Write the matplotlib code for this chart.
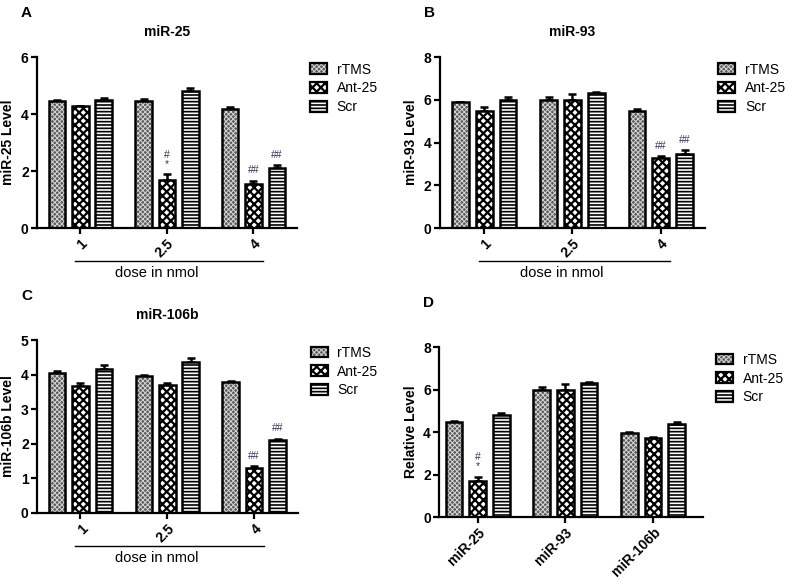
import numpy as np
import matplotlib
matplotlib.use("Agg")
import matplotlib.pyplot as plt

plt.rcParams['font.family'] = ['Liberation Sans', 'DejaVu Sans']

groups = ['rTMS', 'Ant-25', 'Scr']
doses = ['1', '2.5', '4']
mirs = ['miR-25', 'miR-93', 'miR-106b']

# mean values per group, one row per dose
mir25 = [[4.45, 4.27, 4.50], [4.47, 1.70, 4.80], [4.17, 1.55, 2.10]]
mir25_err = [[0.05, 0.03, 0.07], [0.05, 0.20, 0.10], [0.07, 0.12, 0.12]]
mir93 = [[5.88, 5.48, 5.97], [6.00, 6.00, 6.30], [5.48, 3.27, 3.45]]
mir93_err = [[0.04, 0.20, 0.15], [0.12, 0.25, 0.08], [0.10, 0.12, 0.20]]
mir106b = [[4.05, 3.67, 4.17], [3.95, 3.70, 4.38], [3.78, 1.30, 2.10]]
mir106b_err = [[0.05, 0.10, 0.10], [0.03, 0.05, 0.10], [0.03, 0.05, 0.05]]
# panel D: the 2.5 nmol values of each miRNA
rel = [mir25[1], mir93[1], mir106b[1]]
rel_err = [mir25_err[1], mir93_err[1], mir106b_err[1]]

# significance marks: (group row, series index, label)
marks_a = [(1, 1, '#\n*'), (2, 1, '##'), (2, 2, '##')]
marks_b = [(2, 1, '##'), (2, 2, '##')]
marks_c = [(2, 1, '##'), (2, 2, '##')]
marks_d = [(0, 1, '#\n*')]

styles = [
    dict(facecolor='#5a5a5a', edgecolor='#d4d4d4', hatch='xxxxxxx', lw=0.7),
    dict(facecolor='white', edgecolor='black', hatch='xxxx', lw=1.6),
    dict(facecolor='white', edgecolor='black', hatch='-----', lw=1.2),
]

fig = plt.figure(figsize=(7.97, 5.88), dpi=100)
legends = []


def panel(rect, vals, errs, marks, title, ylabel, yticks, ticklabels, letter, dose_line=True, xlim=(-0.5, 2.5)):
    ax = fig.add_axes(rect)
    vals = np.array(vals)
    errs = np.array(errs)
    x = np.arange(len(vals))
    w = 0.19
    step = 0.27
    handles = []
    for i in range(3):
        xi = x + (i - 1) * step
        st = styles[i]
        with plt.rc_context({'hatch.linewidth': st['lw']}):
            ax.bar(xi, vals[:, i], w, facecolor=st['facecolor'], edgecolor=st['edgecolor'],
                   hatch=st['hatch'], linewidth=0, zorder=2)
            h = plt.Rectangle((0, 0), 1, 1, facecolor=st['facecolor'], edgecolor=st['edgecolor'],
                              hatch=st['hatch'], linewidth=0)
        ax.bar(xi, vals[:, i], w, fill=False, edgecolor='black', linewidth=1.8, zorder=3)
        ax.errorbar(xi, vals[:, i], yerr=[np.zeros(len(xi)), errs[:, i]], fmt='none',
                    ecolor='black', elinewidth=1.8, capsize=3, capthick=1.8, zorder=1)
        handles.append(h)
    for g, s, txt in marks:
        xi = x[g] + (s - 1) * step
        ax.text(xi, vals[g, s] + errs[g, s] + yticks[-1] * 0.03, txt, ha='center', va='bottom',
                fontsize=7.5, color='#333355', linespacing=0.9)
    ax.set_xlim(*xlim)
    ax.set_ylim(0, yticks[-1])
    ax.set_yticks(yticks)
    ax.set_xticks(x)
    ax.set_xticklabels(ticklabels, rotation=45, ha='right', rotation_mode='anchor',
                       fontsize=10, fontweight='bold')
    for t in ax.get_yticklabels():
        t.set_fontsize(10)
        t.set_fontweight('bold')
    ax.spines['top'].set_visible(False)
    ax.spines['right'].set_visible(False)
    ax.spines['left'].set_linewidth(1.6)
    ax.spines['bottom'].set_linewidth(1.6)
    ax.tick_params(width=1.6, length=4, direction='out', pad=2)
    ax.set_ylabel(ylabel, fontsize=10, fontweight='bold', labelpad=4)
    if title:
        ax.set_title(title, fontsize=10, fontweight='bold', pad=15)
    if dose_line:
        ax.plot([0.146, 0.87], [-0.19, -0.19], transform=ax.transAxes, color='black',
                linewidth=1, clip_on=False)
        ax.text(0.46, -0.22, 'dose in nmol', transform=ax.transAxes, ha='center', va='top',
                fontsize=10.5)
    lg = ax.legend(handles, groups,
                   loc='upper left', bbox_to_anchor=(1.03, 1.0), borderaxespad=0,
                   frameon=False, fontsize=10,
                   handlelength=1.2, handleheight=0.8, labelspacing=0.35, handletextpad=0.7)
    for p, st in zip(lg.get_patches(), styles):
        p.set_edgecolor(st['edgecolor'])
        if hasattr(p, 'set_hatch_linewidth'):
            p.set_hatch_linewidth(st['lw'])
    legends.append(lg)
    fig.text(rect[0] - 0.02, rect[1] + rect[3] + 0.075, letter, fontsize=11, fontweight='bold',
             ha='left', va='center')
    return ax


panel([0.0464, 0.612, 0.326, 0.291], mir25, mir25_err, marks_a, 'miR-25', 'miR-25 Level',
      [0, 2, 4, 6], doses, 'A')
panel([0.552, 0.612, 0.3325, 0.291], mir93, mir93_err, marks_b, 'miR-93', 'miR-93 Level',
      [0, 2, 4, 6, 8], doses, 'B')
panel([0.0464, 0.1276, 0.327, 0.294], mir106b, mir106b_err, marks_c, 'miR-106b', 'miR-106b Level',
      [0, 1, 2, 3, 4, 5], doses, 'C')
panel([0.551, 0.1207, 0.331, 0.289], rel, rel_err, marks_d, None, 'Relative Level',
      [0, 2, 4, 6, 8], mirs, 'D', dose_line=False, xlim=(-0.44, 2.57))

# black outlines round the legend swatches
fig.canvas.draw()
inv = fig.transFigure.inverted()
for lg in legends:
    for p in lg.get_patches():
        bb = p.get_window_extent().transformed(inv)
        fig.add_artist(plt.Rectangle((bb.x0, bb.y0), bb.width, bb.height, fill=False,
                                     edgecolor='black', linewidth=1.6,
                                     transform=fig.transFigure))

fig.savefig('out.png', dpi=100)
